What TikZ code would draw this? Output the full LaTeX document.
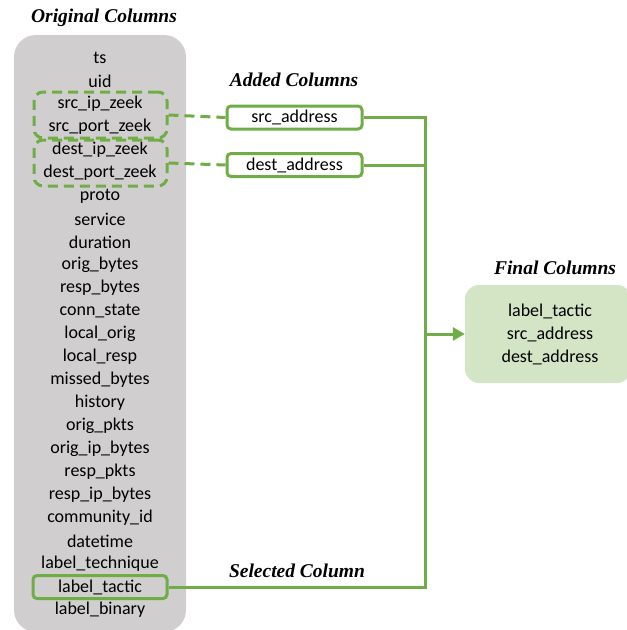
\documentclass[tikz,border=0pt]{standalone}
\usepackage{fontspec}
\setmainfont{Liberation Serif}
\setsansfont{Carlito}
\usetikzlibrary{positioning,arrows.meta}
\definecolor{colgreen}{HTML}{70AD47}
\definecolor{colgray}{HTML}{D0CECE}
\definecolor{finalfill}{HTML}{D3E5C5}

\begin{document}
\begin{tikzpicture}[x=1pt, y=-1pt,
		title/.style={font=\fontsize{19.5}{22}\selectfont\bfseries\itshape},
		item/.style={font=\sffamily\fontsize{18}{20}\selectfont, inner sep=0pt},
		greenbox/.style={draw=colgreen, line width=3pt, rounded corners=4pt, minimum width=135pt, minimum height=23pt, font=\sffamily\fontsize{18}{20}\selectfont, inner sep=0pt},
		dashbox/.style={draw=colgreen, line width=3pt, dash pattern=on 10pt off 6pt, rounded corners=9pt, minimum width=133pt, minimum height=46pt},
		conn/.style={draw=colgreen, line width=3pt},
		dashconn/.style={conn, dash pattern=on 10pt off 6pt}]
		\useasboundingbox (0,0) rectangle (627,630);
		
		% original columns
		\node[title] (origtitle) at (104,18) {Original Columns};
		\fill[colgray, rounded corners=22pt] (14,35) rectangle (186,632);
		\node[greenbox, minimum width=134pt] (tactic) at (100,587) {};
		\foreach \txt [count=\i from 0] in {ts, uid, src\_ip\_zeek, src\_port\_zeek, dest\_ip\_zeek, dest\_port\_zeek, proto, service, duration, orig\_bytes, resp\_bytes, conn\_state, local\_orig, local\_resp, missed\_bytes, history, orig\_pkts, orig\_ip\_bytes, resp\_pkts, resp\_ip\_bytes, community\_id, datetime, label\_technique, label\_tactic, label\_binary}
			\node[item] (c\i) at (100,58+23*\i) {\txt};
		\node[dashbox] (srczeek) at (100.5,115) {};
		\node[dashbox] (destzeek) at (100.5,163) {};
		
		% added columns
		\node[title] (addtitle) at (294,80) {Added Columns};
		\node[greenbox, fill=white] (srcaddr) at (294.5,117.5) {src\_address};
		\node[greenbox, fill=white] (destaddr) at (294.5,165) {dest\_address};
		
		% final columns
		\node[title] (finaltitle) at (555,268) {Final Columns};
		\node[fill=finalfill, rounded corners=14pt, minimum width=166pt, minimum height=98pt, inner sep=0pt] (final) at (548,334) {};
		\node[item] (f1) at (550,311) {label\_tactic};
		\node[item] (f2) at (550,334) {src\_address};
		\node[item] (f3) at (550,357) {dest\_address};
		
		\node[title] (seltitle) at (297,571) {Selected Column};
		
		% connectors
		\coordinate (bus) at (425,334);
		\draw[dashconn] (srczeek.east) -- (srcaddr.west);
		\draw[dashconn] (destzeek.east) -- (destaddr.west);
		\draw[conn] (srcaddr.east) -| (bus) |- (tactic.east);
		\draw[conn] (destaddr.east) -| (bus);
		\draw[conn, -{Triangle[length=12pt, width=13pt]}] (bus) -- (final.west);
	\end{tikzpicture}
\end{document}
